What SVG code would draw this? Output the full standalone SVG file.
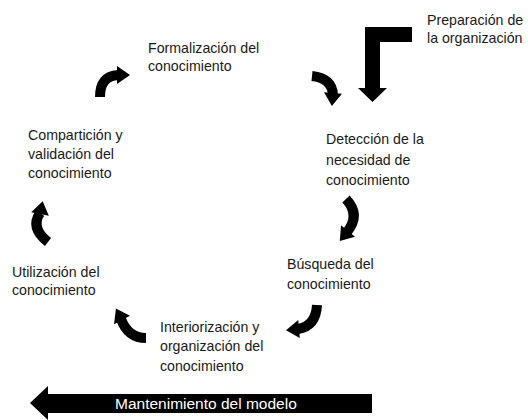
<svg xmlns="http://www.w3.org/2000/svg" width="528" height="420" viewBox="0 0 528 420">
<style>
text{font-family:"Liberation Sans",Arial,sans-serif;font-size:14.2px;fill:#1a1a1a}
.arc{fill:none;stroke:#000;stroke-width:10}
.hd{fill:#000}
.big{fill:#000}
.wt{fill:#fff;font-size:15.5px}
</style>
<defs>
<polygon id="head" points="0,-9 13,0 0,9"/>
</defs>
<rect width="528" height="420" fill="#fff"/>
<g id="n-formalizacion"><text x="148" y="53">Formalización del</text><text x="148" y="71">conocimiento</text></g>
<g id="n-preparacion"><text x="427" y="25">Preparación de</text><text x="427" y="43">la organización</text></g>
<g id="n-deteccion"><text x="326" y="144">Detección de la</text><text x="326" y="165">necesidad de</text><text x="326" y="185">conocimiento</text></g>
<g id="n-comparticion"><text x="28" y="140">Compartición y</text><text x="28" y="159">validación del</text><text x="28" y="178">conocimiento</text></g>
<g id="n-utilizacion"><text x="12" y="277">Utilización del</text><text x="12" y="295">conocimiento</text></g>
<g id="n-busqueda"><text x="287" y="269">Búsqueda del</text><text x="287" y="289">conocimiento</text></g>
<g id="n-interiorizacion"><text x="160" y="332">Interiorización y</text><text x="160" y="351">organización del</text><text x="160" y="371">conocimiento</text></g>
<g id="connectors">
<path class="arc" d="M100 97 Q100 76 118 75"/>
<use href="#head" class="hd" transform="translate(117,75) rotate(0)"/>
<path class="arc" d="M312 76 Q332 78 333 95"/>
<use href="#head" class="hd" transform="translate(333,93) rotate(95)"/>
<path class="arc" d="M346 199 Q361 215 347 232"/>
<use href="#head" class="hd" transform="translate(348,231) rotate(129)"/>
<path class="arc" d="M317 305 Q316 326 298 329"/>
<use href="#head" class="hd" transform="translate(299,329) rotate(175)"/>
<path class="arc" d="M146 338 Q128 338 121 319"/>
<use href="#head" class="hd" transform="translate(122,320) rotate(-118)"/>
<path class="arc" d="M48 242 Q30 228 40 213"/>
<use href="#head" class="hd" transform="translate(40,214) rotate(-78)"/>
<polygon class="big" points="365,27 412,27 412,42 380,42 380,88 387,88 372.5,102 358,88 365,88"/>
<polygon class="big" points="30,403 48,386 48,394 372,394 372,413 48,413 48,420"/>
</g>
<g id="n-mantenimiento"><text class="wt" x="115" y="409">Mantenimiento del modelo</text></g>
</svg>
